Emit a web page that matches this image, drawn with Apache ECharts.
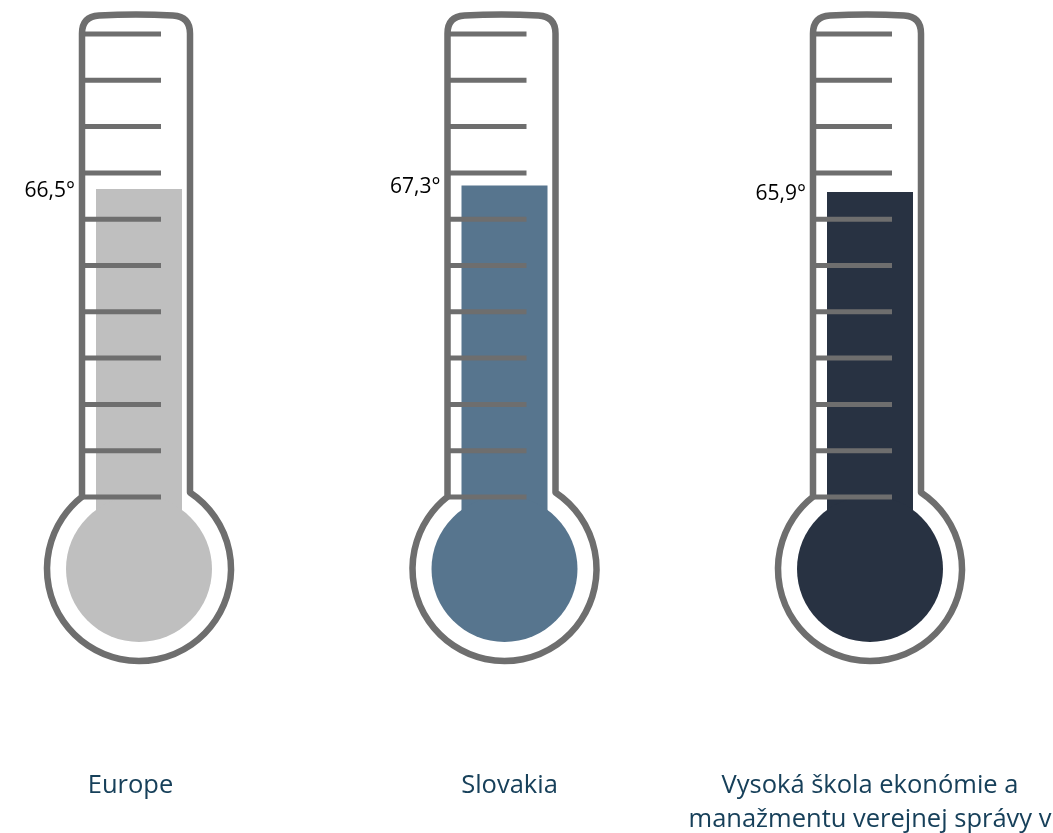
<!DOCTYPE html>
<html><head><meta charset="utf-8">
<script src="https://cdn.jsdelivr.net/npm/echarts@6/dist/echarts.min.js"></script>
<style>html,body{margin:0;padding:0;background:#fff}#c{width:1053px;height:833px}</style>
</head><body><div id="c"></div>
<script>
const categories = ['Europe', 'Slovakia', 'Vysoká škola ekonómie a\nmanažmentu verejnej správy v'];
const values = [66.5, 67.3, 65.9];
const valueLabels = ['66,5°', '67,3°', '65,9°'];
const scaleTicks = [0, 10, 20, 30, 40, 50, 60, 70, 80, 90, 100];
const fillColors = ['#bfbfbf', '#57758e', '#283242'];
const OUTLINE = '#6e6e6e';
const LABEL_COLOR = '#17405a';

const chart = echarts.init(document.getElementById('c'), null, {renderer: 'canvas'});

function renderItem(params, api) {
  const i = api.value(0);
  const v = api.value(1);
  const topPt = api.coord([i, v]);
  const cx = topPt[0];
  const y0 = api.coord([i, 0])[1];
  const y100 = api.coord([i, 100])[1];
  const bulbY = y0 + 72, Rout = 92, Rin = 73;
  const L = cx - 57, Rt = cx + 51, topY = y100 - 17.5, r = 17;
  const jl = bulbY - Math.sqrt(Rout * Rout - (L - cx) * (L - cx));
  const jr = bulbY - Math.sqrt(Rout * Rout - (Rt - cx) * (Rt - cx));
  const pathData = 'M' + L + ',' + jl + 'L' + L + ',' + (topY + r) +
    'Q' + L + ',' + topY + ' ' + (L + r) + ',' + (topY - 1) +
    'Q' + ((L + Rt) / 2) + ',' + (topY - 3) + ' ' + (Rt - r) + ',' + (topY - 1) +
    'Q' + Rt + ',' + topY + ' ' + Rt + ',' + (topY + r) +
    'L' + Rt + ',' + jr +
    'A' + Rout + ',' + Rout + ' 0 1 1 ' + L + ',' + jl + 'Z';
  const color = fillColors[params.dataIndex];
  const children = [
    {type: 'rect', shape: {x: cx - 43, y: topPt[1], width: 86, height: bulbY - topPt[1]}, style: {fill: color}},
    {type: 'circle', shape: {cx: cx, cy: bulbY, r: Rin}, style: {fill: color}}
  ];
  scaleTicks.forEach(function (t) {
    const ty = api.coord([i, t])[1];
    children.push({type: 'line', shape: {x1: L, y1: ty, x2: cx + 22, y2: ty}, style: {stroke: OUTLINE, lineWidth: 5}});
  });
  children.push({type: 'path', shape: {pathData: pathData}, style: {fill: null, stroke: OUTLINE, lineWidth: 6.5, lineJoin: 'round'}});
  children.push({type: 'text', x: cx - 64, y: topPt[1] + 2,
    style: {text: valueLabels[params.dataIndex], align: 'right', verticalAlign: 'middle',
      font: '21px "Open Sans"', fill: '#000'}});
  return {type: 'group', children: children};
}

chart.setOption({
  animation: false,
  grid: {left: 139, right: 183, top: 34, bottom: 336, containLabel: false, outerBoundsMode: 'none'},
  xAxis: {
    type: 'category', data: categories, boundaryGap: false,
    axisLine: {show: false}, axisTick: {show: false}, splitLine: {show: false},
    axisLabel: {
      interval: 0, margin: 272, fontFamily: 'Open Sans', fontSize: 25.5, lineHeight: 34, color: LABEL_COLOR,
      formatter: function (val, idx) {
        if (idx === 0) return '{a|' + val + '}';
        if (idx === 1) return '{b|' + val + '}';
        return val;
      },
      rich: {
        a: {fontFamily: 'Open Sans', fontSize: 25.5, lineHeight: 34, color: LABEL_COLOR, padding: [0, 17, 0, 0]},
        b: {fontFamily: 'Open Sans', fontSize: 25.5, lineHeight: 34, color: LABEL_COLOR, padding: [0, 0, 0, 10]}
      }
    }
  },
  yAxis: {type: 'value', min: 0, max: 100, show: false},
  series: [{
    type: 'custom', clip: false,
    renderItem: renderItem,
    data: values.map(function (v, i) { return [i, v]; })
  }]
});
</script></body></html>
